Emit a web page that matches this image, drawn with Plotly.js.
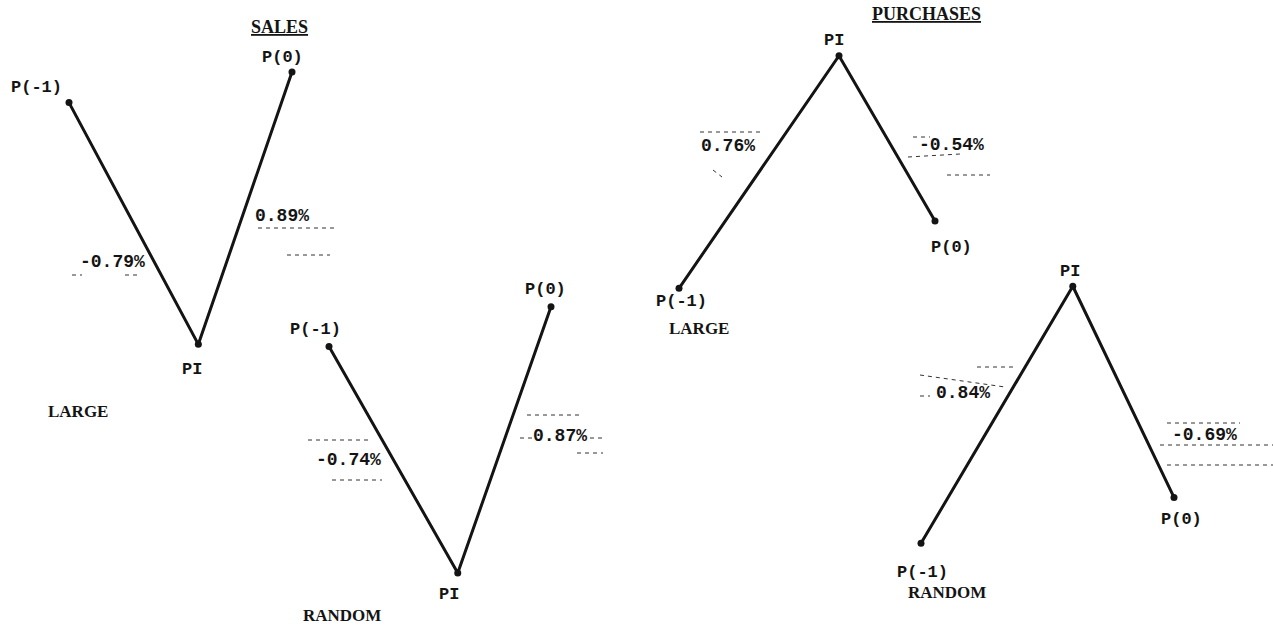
<!DOCTYPE html>
<html>
<head>
<meta charset="utf-8">
<script src="https://cdn.plot.ly/plotly-3.0.1.min.js"></script>
<style>html,body{margin:0;padding:0;background:#fff;}#chart{width:1273px;height:628px;}</style>
</head>
<body>
<div id="chart"></div>
<script>
// ---------- DATA ----------
const stages = ["P(-1)", "PI", "P(0)"];
const groupNames = ["LARGE", "RANDOM", "LARGE", "RANDOM"];
const sideNames = ["SALES", "PURCHASES"];
// price changes in %: P(-1) -> PI, PI -> P(0)
const salesLargeReturns = [-0.79, 0.89];
const salesRandomReturns = [-0.74, 0.87];
const purchasesLargeReturns = [0.76, -0.54];
const purchasesRandomReturns = [0.84, -0.69];
// relative time of the three prices (P(-1) = -1, P(0) = 0)
const salesLargeTime = [-1, -0.42, 0];
const salesRandomTime = [-1, -0.42, 0];
const purchasesLargeTime = [-1, -0.375, 0];
const purchasesRandomTime = [-1, -0.40, 0];

// ---------- LAYOUT / STYLE ----------
const W = 1273, H = 628, PX_PER_PCT = 306, PAD = 0.1;
const ink = "#141414";
const monoFont = {family: "Liberation Mono, Courier New, monospace", size: 17, color: ink, weight: 700};
const pctFont = {family: "Liberation Mono, Courier New, monospace", size: 18, color: ink, weight: 700};
const serifFont = {family: "Liberation Serif, Times New Roman, serif", size: 17, color: ink, weight: 700};

const panels = [
  {returns: salesLargeReturns, time: salesLargeTime, left: 69, right: 292, base: 102.6,
   ptShift: [[-33, 15], [-6, -25], [-10, 15]], pctShift: [[-21, -39], [37, -8]],
   group: {x: 78, y: 411}},
  {returns: salesRandomReturns, time: salesRandomTime, left: 329, right: 551, base: 346.5,
   ptShift: [[-14, 17], [-9, -22], [-6, 17]], pctShift: [[-45, 0], [56, 4]],
   group: {x: 342, y: 615}},
  {returns: purchasesLargeReturns, time: purchasesLargeTime, left: 679, right: 935, base: 288.3,
   ptShift: [[2, -13], [-5, 15], [16, -27]], pctShift: [[-31, 26], [64, -7]],
   group: {x: 699, y: 328}},
  {returns: purchasesRandomReturns, time: purchasesRandomTime, left: 921, right: 1174, base: 543.3,
   ptShift: [[1, -29], [-3, 15], [7, -22]], pctShift: [[-34, 22], [81, -43]],
   group: {x: 947, y: 592}}
];
const headers = [{x: 279, y: 27}, {x: 926, y: 14}];

// faint dashed typewriter marks around the percentage labels (pixel positions)
const scanDashes = [
  [258, 228, 335, 228], [287, 255, 330, 255], [72, 275, 82, 275], [125, 275, 137, 275],
  [308, 440, 370, 440], [332, 480, 382, 480],
  [527, 415, 583, 415], [520, 438, 532, 438], [590, 438, 606, 438], [577, 453, 603, 453],
  [700, 132, 760, 132], [713, 170, 722, 177],
  [913, 137, 930, 137], [908, 157, 960, 154], [947, 175, 990, 175],
  [977, 367, 1017, 367], [920, 375, 1005, 387], [920, 396, 930, 396],
  [1167, 423, 1240, 423], [1160, 445, 1273, 445], [1167, 465, 1273, 465]
];

function levels(r) { return [0, r[0], r[0] + r[1]]; }
function pctText(v) { return v.toFixed(2) + "%"; }

const data = [];
const layout = {
  width: W, height: H, autosize: false,
  margin: {l: 0, r: 0, t: 0, b: 0, pad: 0},
  paper_bgcolor: "#fff", plot_bgcolor: "rgba(0,0,0,0)",
  showlegend: false, hovermode: false,
  annotations: [],
  shapes: scanDashes.map(d => ({
    type: "line", xref: "paper", yref: "paper", layer: "below",
    x0: d[0] / W, y0: 1 - d[1] / H, x1: d[2] / W, y1: 1 - d[3] / H,
    line: {color: "#333", width: 1, dash: "4px,4px"}
  }))
};

panels.forEach((p, i) => {
  const s = i === 0 ? "" : String(i + 1);
  const lev = levels(p.returns);
  data.push({
    type: "scatter", mode: "lines+markers",
    x: p.time, y: lev,
    xaxis: "x" + s, yaxis: "y" + s,
    line: {color: ink, width: 3},
    marker: {color: ink, size: 7},
    cliponaxis: false, hoverinfo: "skip"
  });
  const w = p.right - p.left;
  layout["xaxis" + s] = {
    domain: [(p.left - PAD * w) / W, (p.right + PAD * w) / W],
    range: [-1 - PAD, PAD], visible: false, fixedrange: true, anchor: "y" + s
  };
  layout["yaxis" + s] = {
    domain: [0, 1],
    range: [(p.base - H) / PX_PER_PCT, p.base / PX_PER_PCT],
    visible: false, fixedrange: true, anchor: "x" + s
  };
  stages.forEach((lab, j) => {
    layout.annotations.push({
      xref: "x" + s, yref: "y" + s, x: p.time[j], y: lev[j],
      text: lab, showarrow: false, xanchor: "center", yanchor: "middle",
      xshift: p.ptShift[j][0], yshift: p.ptShift[j][1], font: monoFont, borderpad: 0
    });
  });
  p.returns.forEach((r, j) => {
    layout.annotations.push({
      xref: "x" + s, yref: "y" + s,
      x: (p.time[j] + p.time[j + 1]) / 2, y: (lev[j] + lev[j + 1]) / 2,
      text: pctText(r), showarrow: false, xanchor: "center", yanchor: "middle",
      xshift: p.pctShift[j][0], yshift: p.pctShift[j][1], font: pctFont, borderpad: 0
    });
  });
  layout.annotations.push({
    xref: "paper", yref: "paper", x: p.group.x / W, y: 1 - p.group.y / H,
    text: groupNames[i], showarrow: false, xanchor: "center", yanchor: "middle",
    font: serifFont, borderpad: 0
  });
});

sideNames.forEach((t, i) => {
  layout.annotations.push({
    xref: "paper", yref: "paper", x: headers[i].x / W, y: 1 - headers[i].y / H,
    text: t, showarrow: false, xanchor: "center", yanchor: "middle", borderpad: 0,
    font: Object.assign({}, serifFont, {size: 18, lineposition: "under"})
  });
});

Plotly.newPlot("chart", data, layout, {staticPlot: true, displayModeBar: false});
</script>
</body>
</html>
